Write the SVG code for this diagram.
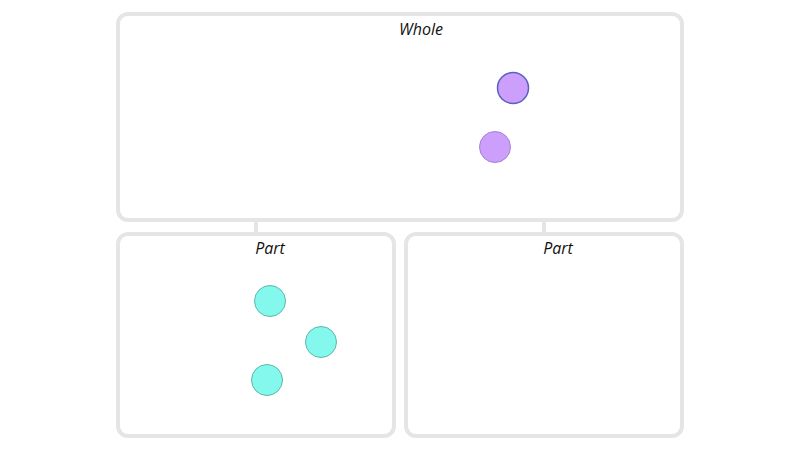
<svg xmlns="http://www.w3.org/2000/svg" width="800" height="450" viewBox="0 0 800 450">
<style>
.box{fill:#fff;stroke:#e5e5e5;stroke-width:4}
.conn{stroke:#e5e5e5;stroke-width:4;fill:none}
.lbl{font-family:"Open Sans","Liberation Sans",sans-serif;font-style:italic;font-size:16px;fill:#111;text-anchor:middle}
.purple{fill:#cc9ffc}
.cyan{fill:#84f8ec;stroke:#5fb8ab;stroke-width:1}
</style>
<rect width="800" height="450" fill="#fff"/>
<g id="connectors">
<line class="conn" x1="256" y1="220" x2="256" y2="234"/>
<line class="conn" x1="544" y1="220" x2="544" y2="234"/>
</g>
<g id="whole">
<rect class="box" x="118" y="14" width="564" height="206" rx="10"/>
<text class="lbl" x="421" y="35">Whole</text>
<circle class="purple" cx="513" cy="88" r="15.5" stroke="#5a5fc0" stroke-width="1.5"/>
<circle class="purple" cx="495" cy="147" r="15.5" stroke="#a77fd6" stroke-width="1"/>
</g>
<g id="part1">
<rect class="box" x="118" y="234" width="276" height="202" rx="10"/>
<text class="lbl" x="270" y="254">Part</text>
<circle class="cyan" cx="270" cy="301" r="15.5"/>
<circle class="cyan" cx="321" cy="342" r="15.5"/>
<circle class="cyan" cx="267" cy="380" r="15.5"/>
</g>
<g id="part2">
<rect class="box" x="406" y="234" width="276" height="202" rx="10"/>
<text class="lbl" x="558" y="254">Part</text>
</g>
</svg>
